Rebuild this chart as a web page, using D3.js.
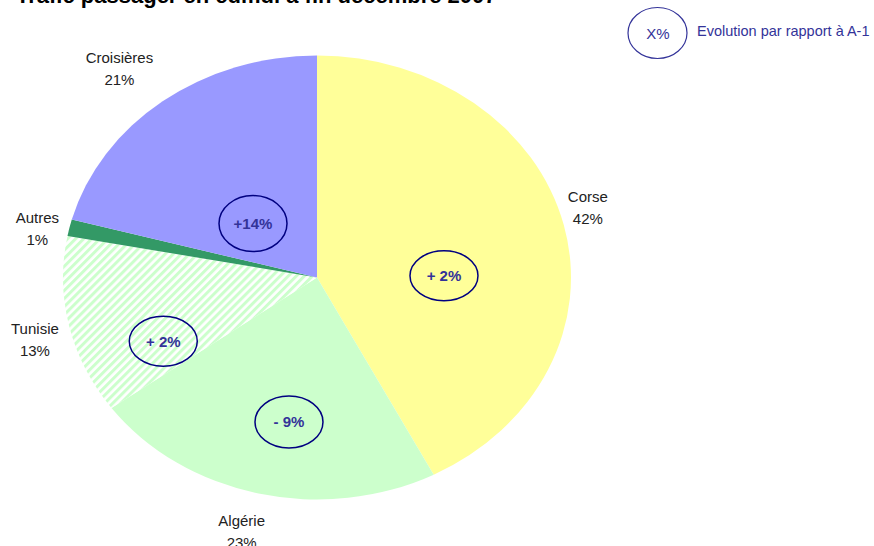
<!DOCTYPE html>
<html>
<head>
<meta charset="utf-8">
<style>
  body { margin: 0; background: #fff; }
  svg text { font-family: Arial, "Liberation Sans", sans-serif; }
</style>
</head>
<body>
<script src="https://d3js.org/d3.v7.min.js"></script>
<script>

// data
var categories = ["Corse", "Algérie", "Tunisie", "Autres", "Croisières"];
var shares = [42.4, 22.6, 13.0, 1.2, 20.8];
var shareLabels = ["42%", "23%", "13%", "1%", "21%"];
var evolution = ["+ 2%", "- 9%", "+ 2%", null, "+14%"];
var fills = ["#ffff99", "#ccffcc", "url(#hatch)", "#339966", "#9999ff"];

// layout
var width = 874, height = 546;
var cx = 317, cy = 277.5, R = 254, k = 0.874;
var labelNudge = [[-13, -10], [-8, 5], [3, 6], [5, 8], [-20, -7]];
var badgeLayout = [[12.8, 0.5, 25], [-3.7, 0.66, 26], [-12.8, 0.67, 25], null, [-8.6, 0.35, 28]];

var svg = d3.select("body").append("svg")
    .attr("width", width)
    .attr("height", height);

var defs = svg.append("defs");
var pat = defs.append("pattern")
    .attr("id", "hatch")
    .attr("patternUnits", "userSpaceOnUse")
    .attr("width", 5.7)
    .attr("height", 5.7)
    .attr("patternTransform", "scale(1," + (1 / k) + ") rotate(45)");
pat.append("rect").attr("width", 5.7).attr("height", 5.7).attr("fill", "#fff");
pat.append("rect").attr("width", 3).attr("height", 5.7).attr("fill", "#ccffcc");

// title (cut off at top like the original)
svg.append("text")
    .attr("x", 16)
    .attr("y", 3)
    .style("font-size", "22px")
    .style("font-weight", "bold")
    .style("fill", "#000")
    .text("Trafic passager en cumul à fin décembre 2007");

var pie = d3.pie().sort(null).value(function(d) { return d; });
var arcs = pie(shares);
var arc = d3.arc().innerRadius(0).outerRadius(R);

var g = svg.append("g")
    .attr("transform", "translate(" + cx + "," + cy + ") scale(1," + k + ")");

g.selectAll("path.slice")
    .data(arcs)
  .enter().append("path")
    .attr("class", "slice")
    .attr("d", arc)
    .attr("fill", function(d, i) { return fills[i]; });

function polar(angle, r) {
  return [cx + r * Math.sin(angle), cy - r * k * Math.cos(angle)];
}

// category labels
arcs.forEach(function(d, i) {
  var mid = (d.startAngle + d.endAngle) / 2;
  var p = polar(mid, R * 1.15);
  var x = p[0] + labelNudge[i][0], y = p[1] + labelNudge[i][1];
  var t = svg.append("text")
      .attr("text-anchor", "middle")
      .style("font-size", "15px")
      .style("fill", "#222");
  t.append("tspan").attr("x", x).attr("y", y - 5).text(categories[i]);
  t.append("tspan").attr("x", x).attr("y", y + 17).text(shareLabels[i]);
});

// evolution badges
arcs.forEach(function(d, i) {
  if (!evolution[i]) return;
  var b = badgeLayout[i];
  var mid = (d.startAngle + d.endAngle) / 2 + b[0] * Math.PI / 180;
  var p = polar(mid, R * b[1]);
  svg.append("ellipse")
      .attr("cx", p[0]).attr("cy", p[1])
      .attr("rx", 34).attr("ry", b[2])
      .attr("fill", "none")
      .attr("stroke", "#000080")
      .attr("stroke-width", 1.5);
  svg.append("text")
      .attr("x", p[0]).attr("y", p[1])
      .attr("dy", "0.35em")
      .attr("text-anchor", "middle")
      .style("font-size", "15px")
      .style("font-weight", "bold")
      .style("fill", "#333399")
      .text(evolution[i]);
});

// legend
svg.append("ellipse")
    .attr("cx", 657.5).attr("cy", 33)
    .attr("rx", 29.5).attr("ry", 25.5)
    .attr("fill", "none")
    .attr("stroke", "#333399")
    .attr("stroke-width", 1.2);
svg.append("text")
    .attr("x", 658).attr("y", 34)
    .attr("dy", "0.35em")
    .attr("text-anchor", "middle")
    .style("font-size", "15px")
    .style("fill", "#333399")
    .text("X%");
svg.append("text")
    .attr("x", 697).attr("y", 36)
    .style("font-size", "14.5px")
    .style("fill", "#333399")
    .text("Evolution par rapport à A-1");

</script>
</body>
</html>
